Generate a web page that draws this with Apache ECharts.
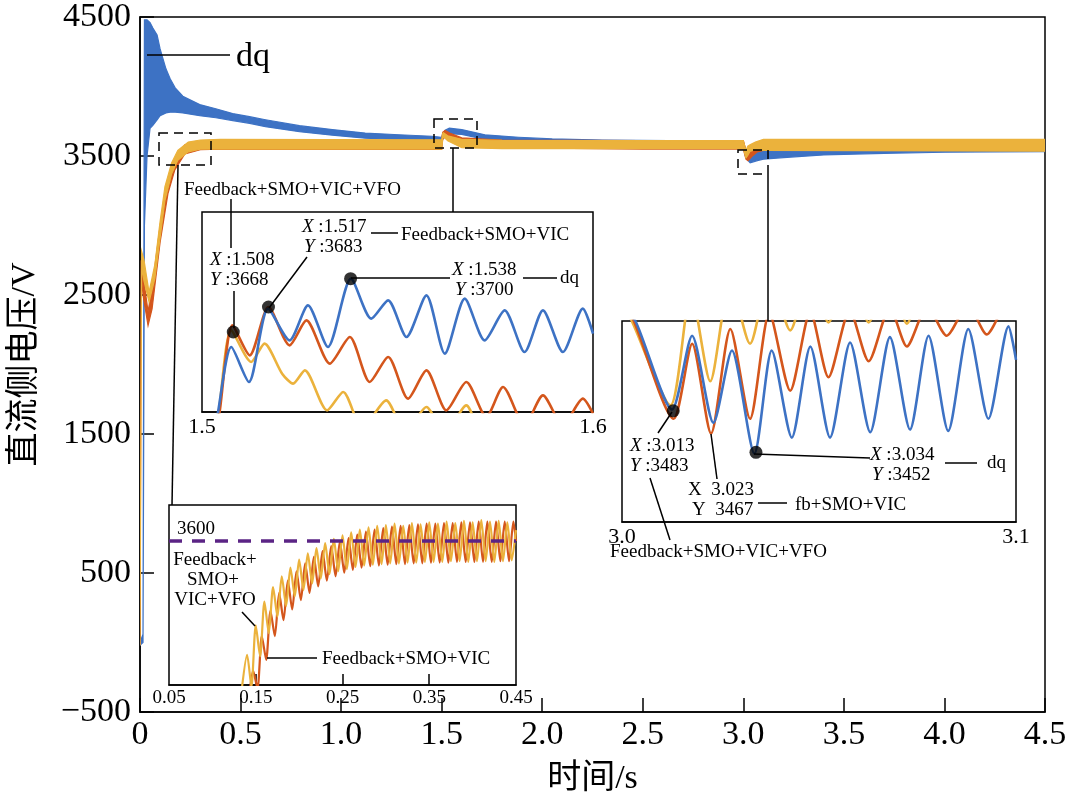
<!DOCTYPE html>
<html><head><meta charset="utf-8">
<script src="https://cdn.jsdelivr.net/npm/echarts@6/dist/echarts.min.js"></script>
<style>html,body{margin:0;padding:0;background:#fff}#c{width:1071px;height:805px}</style>
</head><body><div id="c"></div>
<script>
// ---------------- data ----------------
const mainXTicks = [0, 0.5, 1.0, 1.5, 2.0, 2.5, 3.0, 3.5, 4.0, 4.5];
const mainYTicks = [-500, 500, 1500, 2500, 3500, 4500];
const inset1XTicks = [1.5, 1.6];
const inset2XTicks = [3.0, 3.1];
const inset3XLabels = [0.05, 0.15, 0.25, 0.35, 0.45];
const inset3XTicks = [0.15, 0.25, 0.35];
const refLevel = 3600;

// main chart: oscillation bands (time, lower envelope, upper envelope)
const dqX  = [0, 0.015, 0.022, 0.035, 0.05, 0.064, 0.085, 0.1, 0.129, 0.15, 0.175, 0.213, 0.297, 0.377, 0.461, 0.545, 0.624, 0.793, 0.956, 1.12, 1.288, 1.452, 1.5, 1.505, 1.517, 1.538, 1.6, 1.715, 1.883, 2.05, 2.3, 2.63, 2.99, 3.0, 3.013, 3.034, 3.07, 3.1, 3.2, 3.4, 3.7, 4.0, 4.5];
const dqLo = [-20, 0, 3000, 3500, 3700, 3720, 3760, 3790, 3810, 3815, 3815, 3810, 3790, 3775, 3755, 3735, 3711, 3675, 3650, 3628, 3618, 3612, 3605, 3620, 3640, 3660, 3655, 3620, 3600, 3590, 3580, 3575, 3570, 3565, 3484, 3451, 3467, 3477, 3489, 3508, 3519, 3527, 3532];
const dqHi = [0, 60, 4480, 4480, 4460, 4420, 4370, 4270, 4127, 4055, 3990, 3930, 3870, 3840, 3805, 3783, 3761, 3718, 3690, 3665, 3653, 3642, 3635, 3660, 3685, 3700, 3690, 3652, 3635, 3623, 3615, 3610, 3608, 3600, 3540, 3530, 3540, 3546, 3555, 3565, 3575, 3585, 3590];

const fbX  = [0, 0.006, 0.015, 0.04, 0.06, 0.1, 0.139, 0.173, 0.223, 0.3, 0.4, 1.5, 1.505, 1.517, 1.54, 1.6, 1.8, 2.5, 3.0, 3.013, 3.023, 3.043, 3.07, 3.1, 3.2, 4.5];
const fbLo = [-20, 2650, 2500, 2280, 2400, 2880, 3230, 3400, 3515, 3545, 3550, 3548, 3620, 3640, 3635, 3590, 3560, 3550, 3550, 3477, 3466, 3498, 3530, 3540, 3540, 3540];
const fbHi = [20, 2750, 2650, 2380, 2550, 3000, 3320, 3480, 3580, 3600, 3612, 3610, 3670, 3683, 3665, 3630, 3615, 3610, 3610, 3540, 3544, 3555, 3580, 3590, 3600, 3612];

const vfoX  = [0, 0.008, 0.02, 0.045, 0.074, 0.099, 0.124, 0.157, 0.188, 0.24, 0.3, 0.4, 1.5, 1.505, 1.508, 1.53, 1.6, 1.8, 3.0, 3.013, 3.022, 3.033, 3.06, 3.1, 4.5];
const vfoLo = [-20, 2700, 2600, 2450, 2620, 2900, 3180, 3370, 3470, 3530, 3550, 3550, 3550, 3620, 3640, 3610, 3560, 3553, 3553, 3487, 3505, 3533, 3545, 3540, 3535];
const vfoHi = [20, 2814, 2750, 2520, 2720, 3020, 3280, 3450, 3540, 3600, 3615, 3620, 3617, 3660, 3668, 3645, 3620, 3612, 3610, 3540, 3570, 3580, 3600, 3620, 3620];

// inset 1 (1.5 - 1.6 s)
const dqInset1 = [[1.503,3600],[1.5041,3620],[1.5075,3659],[1.512,3638],[1.5169,3682],[1.5224,3663],[1.5271,3684],[1.5322,3659],[1.5381,3700],[1.5433,3676],[1.5476,3687],[1.5523,3665],[1.5574,3690],[1.5621,3655],[1.5672,3688],[1.5723,3663],[1.5774,3681],[1.5825,3656],[1.5872,3681],[1.5923,3656],[1.5974,3682],[1.6,3667]];
const fbInset1 = [[1.503,3600],[1.5045,3620],[1.5078,3672],[1.5122,3654],[1.517,3683],[1.5224,3660],[1.5267,3675],[1.5327,3649],[1.5378,3665],[1.5429,3638],[1.5476,3653],[1.5527,3628],[1.5574,3645],[1.5625,3621],[1.5676,3638],[1.5727,3617],[1.577,3635],[1.5825,3612],[1.5872,3630],[1.5923,3612],[1.5974,3628],[1.6,3619]];
const vfoInset1 = [[1.503,3600],[1.5043,3620],[1.5075,3669],[1.5126,3650],[1.516,3661],[1.5205,3643],[1.5233,3637],[1.5263,3645],[1.532,3621],[1.5361,3632],[1.541,3610],[1.5471,3627],[1.552,3608],[1.5574,3623],[1.562,3606],[1.5676,3624],[1.572,3605],[1.578,3615],[1.583,3603],[1.6,3605]];
const inset1Markers = [[1.508,3668],[1.517,3683],[1.538,3700]];

// inset 2 (3.0 - 3.1 s)
const dqInset2 = [[3.0,3560],[3.0034,3550],[3.0127,3484],[3.0178,3539],[3.0232,3474],[3.0279,3528],[3.0336,3451],[3.038,3528],[3.0431,3463],[3.0478,3531],[3.0528,3463],[3.0579,3534],[3.063,3467],[3.068,3538],[3.0731,3469],[3.0778,3539],[3.0828,3468],[3.0879,3544],[3.093,3477],[3.0981,3546],[3.1,3521]];
const fbInset2 = [[3.0,3565],[3.003,3550],[3.0131,3477],[3.0178,3533],[3.0226,3466],[3.0275,3544],[3.0325,3477],[3.0374,3556],[3.0427,3498],[3.0478,3557],[3.0524,3508],[3.0578,3558],[3.0626,3520],[3.068,3560],[3.0723,3531],[3.0775,3561],[3.0824,3539],[3.0878,3562],[3.0926,3540],[3.098,3564],[3.1,3556]];
const vfoInset2 = [[3.0,3565],[3.0025,3550],[3.0123,3487],[3.0175,3572],[3.0224,3505],[3.0275,3580],[3.0325,3533],[3.0375,3585],[3.0427,3543],[3.0478,3588],[3.0524,3549],[3.0578,3590],[3.0626,3549],[3.068,3590],[3.0723,3548],[3.0778,3592],[3.0828,3553],[3.088,3592],[3.093,3553],[3.1,3590]];
const inset2Markers = [[3.013,3483],[3.034,3452]];

// inset 3 (0.05 - 0.45 s)
const fbInset3 = [[0.142,3380],[0.147,3420],[0.152,3395],[0.157,3468],[0.162,3435],[0.167,3503],[0.172,3468],[0.177,3528],[0.182,3490],[0.187,3545],[0.192,3505],[0.197,3558],[0.202,3518],[0.207,3569],[0.212,3528],[0.217,3578],[0.222,3537],[0.227,3586],[0.232,3545],[0.237,3593],[0.242,3551],[0.247,3599],[0.252,3556],[0.257,3604],[0.262,3560],[0.267,3609],[0.272,3563],[0.277,3613],[0.282,3565],[0.287,3616],[0.292,3566],[0.297,3618],[0.302,3567],[0.307,3620],[0.312,3568],[0.317,3621],[0.322,3568],[0.327,3622],[0.332,3569],[0.337,3623],[0.342,3569],[0.347,3624],[0.352,3570],[0.357,3624],[0.362,3570],[0.367,3625],[0.372,3570],[0.377,3625],[0.382,3571],[0.387,3626],[0.392,3571],[0.397,3626],[0.402,3571],[0.407,3627],[0.412,3571],[0.417,3627],[0.422,3571],[0.427,3627],[0.432,3572],[0.437,3627],[0.442,3572],[0.447,3627],[0.45,3600]];
const vfoInset3 = [[0.134,3395],[0.14,3442],[0.145,3398],[0.15,3483],[0.155,3440],[0.16,3516],[0.165,3472],[0.17,3536],[0.175,3495],[0.18,3551],[0.185,3510],[0.19,3563],[0.195,3523],[0.2,3574],[0.205,3532],[0.21,3583],[0.215,3541],[0.22,3590],[0.225,3548],[0.23,3597],[0.235,3554],[0.24,3603],[0.245,3558],[0.25,3608],[0.255,3561],[0.26,3612],[0.265,3564],[0.27,3616],[0.275,3566],[0.28,3619],[0.285,3567],[0.29,3621],[0.295,3568],[0.3,3622],[0.305,3569],[0.31,3624],[0.315,3569],[0.32,3621],[0.325,3570],[0.33,3625],[0.335,3570],[0.34,3623],[0.345,3571],[0.35,3626],[0.355,3571],[0.36,3624],[0.365,3571],[0.37,3627],[0.375,3572],[0.38,3625],[0.385,3572],[0.39,3628],[0.395,3571],[0.4,3626],[0.405,3572],[0.41,3629],[0.415,3572],[0.42,3627],[0.425,3571],[0.43,3628],[0.435,3572],[0.44,3626],[0.445,3573],[0.45,3615]];

// ---------------- style ----------------
const SERIF = '"Liberation Serif","Times New Roman",serif';
const CJK = '"Liberation Serif","Noto Sans CJK SC",serif';
const BLUE = '#3d72c4', ORANGE = '#d4561c', YELLOW = '#ebb23c', PURPLE = '#5b2485';

// oscillation band drawn as a filled polygon between the lower and upper envelopes (via axis scales)
function band(X, LO, HI, color) {
  return {
    type: 'custom', xAxisIndex: 0, yAxisIndex: 0, silent: true,
    data: [[X[0], LO[0]]],
    renderItem: function (params, api) {
      const top = X.map((x, i) => api.coord([x, HI[i]]));
      const bot = X.map((x, i) => api.coord([x, LO[i]])).reverse();
      const cs = params.coordSys;
      return {
        type: 'polygon',
        shape: { points: top.concat(bot) },
        style: { fill: color, stroke: color, lineWidth: 1.2 },
        clipPath: { type: 'rect', shape: { x: cs.x, y: cs.y, width: cs.width, height: cs.height } }
      };
    }
  };
}
function ln(idx, data, color, w) {
  return { type: 'line', xAxisIndex: idx, yAxisIndex: idx, data: data, symbol: 'none', clip: true, smooth: 0.25,
    lineStyle: { color: color, width: w || 2.6 }, silent: true };
}
function T(x, y, text, size, align) {
  const s = size || 19;
  return { type: 'text', x: x, y: y, z: 100, silent: true,
    style: { text: text, fontSize: s, fontFamily: SERIF, fill: '#000', align: align || 'left', verticalAlign: 'middle',
      rich: { i: { fontStyle: 'italic', fontSize: s, fontFamily: SERIF, fill: '#000' } } } };
}
function L(x1, y1, x2, y2, w) {
  return { type: 'line', z: 100, silent: true, shape: { x1: x1, y1: y1, x2: x2, y2: y2 }, style: { stroke: '#000', lineWidth: w || 1.5 } };
}
function R(x, y, w, h) {
  return { type: 'rect', z: 100, silent: true, shape: { x: x, y: y, width: w, height: h },
    style: { fill: 'rgba(0,0,0,0)', stroke: '#000', lineWidth: 1.5, lineDash: [9, 6] } };
}

const insetX = (idx, min, max, labels, fmt, fs, ticks) => ({
  type: 'value', gridIndex: idx, min: min, max: max,
  axisLine: { show: true, onZero: false, lineStyle: { color: '#000', width: 1.5 } },
  axisTick: ticks ? { show: true, inside: true, length: 11, customValues: ticks, lineStyle: { color: '#000', width: 1.5 } } : { show: false },
  axisLabel: { customValues: labels, formatter: v => v.toFixed(fmt), fontSize: fs, fontFamily: SERIF, color: '#000', margin: 4 },
  splitLine: { show: false }
});
const insetY = (idx, min, max) => ({ type: 'value', gridIndex: idx, min: min, max: max, show: false, splitLine: { show: false } });

const chart = echarts.init(document.getElementById('c'), null, { renderer: 'canvas' });
chart.setOption({
  animation: false,
  backgroundColor: '#fff',
  grid: [
    { left: 137, top: 15, width: 908, height: 697, show: true, borderColor: '#000', borderWidth: 1.5, backgroundColor: 'rgba(0,0,0,0)', containLabel: false },
    { left: 202, top: 212, width: 391, height: 200, show: true, borderColor: '#000', borderWidth: 1.5, backgroundColor: '#fff', containLabel: false },
    { left: 622, top: 321, width: 394, height: 201, show: true, borderColor: '#000', borderWidth: 1.5, backgroundColor: '#fff', containLabel: false },
    { left: 169, top: 505, width: 347, height: 180, show: true, borderColor: '#000', borderWidth: 1.5, backgroundColor: '#fff', containLabel: false }
  ],
  xAxis: [
    { type: 'value', gridIndex: 0, min: 0, max: 4.5, interval: 0.5,
      axisLine: { onZero: false, lineStyle: { color: '#000', width: 1.5 } },
      axisTick: { inside: true, length: 14, customValues: mainXTicks, lineStyle: { color: '#000', width: 1.5 } },
      axisLabel: { customValues: mainXTicks, formatter: v => v === 0 ? '0' : v.toFixed(1), fontSize: 34, fontFamily: SERIF, color: '#000', margin: 6 },
      splitLine: { show: false },
      name: '时间/s', nameLocation: 'middle', nameGap: 50,
      nameTextStyle: { fontSize: 34, fontFamily: CJK, color: '#000' } },
    insetX(1, 1.5, 1.6, inset1XTicks, 1, 22, null),
    insetX(2, 3.0, 3.1, inset2XTicks, 1, 22, null),
    insetX(3, 0.05, 0.45, inset3XLabels, 2, 19, inset3XTicks)
  ],
  yAxis: [
    { type: 'value', gridIndex: 0, min: -500, max: 4500,
      axisLine: { onZero: false, lineStyle: { color: '#000', width: 1.5 } },
      axisTick: { inside: true, length: 14, customValues: mainYTicks, lineStyle: { color: '#000', width: 1.5 } },
      axisLabel: { customValues: mainYTicks, formatter: v => v < 0 ? '\u2212' + Math.abs(v) : String(v), fontSize: 34, fontFamily: SERIF, color: '#000', margin: 9 },
      splitLine: { show: false },
      name: '直流侧电压/V', nameLocation: 'middle', nameGap: 98, nameRotate: 90,
      nameTextStyle: { fontSize: 34, fontFamily: CJK, color: '#000' } },
    insetY(1, 3620, 3740),
    insetY(2, 3400, 3550),
    insetY(3, 3400, 3650)
  ],
  series: [
    band(dqX, dqLo, dqHi, BLUE),
    band(fbX, fbLo, fbHi, ORANGE),
    band(vfoX, vfoLo, vfoHi, YELLOW),
    ln(1, vfoInset1, YELLOW), ln(1, fbInset1, ORANGE), ln(1, dqInset1, BLUE),
    { type: 'scatter', xAxisIndex: 1, yAxisIndex: 1, data: inset1Markers, symbolSize: 13, itemStyle: { color: '#000' }, z: 5, silent: true },
    ln(2, vfoInset2, YELLOW), ln(2, fbInset2, ORANGE), ln(2, dqInset2, BLUE),
    { type: 'scatter', xAxisIndex: 2, yAxisIndex: 2, data: inset2Markers, symbolSize: 13, itemStyle: { color: '#000' }, z: 5, silent: true },
    Object.assign(ln(3, fbInset3, ORANGE, 2.2), {
      markLine: { silent: true, symbol: 'none', label: { show: false },
        lineStyle: { color: PURPLE, width: 3.5, type: [13, 10] }, data: [{ yAxis: refLevel }] } }),
    ln(3, vfoInset3, YELLOW, 2.2)
  ],
  graphic: [
    // main: dq label, zoom boxes, connectors
    L(147, 55, 230, 55), T(236, 57, 'dq', 34),
    R(159, 133, 52, 32), R(434, 119, 43, 29), R(738, 150, 30, 24),
    L(178, 165, 172, 505), L(453, 148, 453, 212), L(768, 174, 768, 321),
    // inset 1
    T(184, 190, 'Feedback+SMO+VIC+VFO'), L(231, 199, 231, 248),
    T(210, 260, '{i|X} :1.508'), T(210, 280, '{i|Y} :3668'), L(234, 291, 234, 328),
    T(302, 227, '{i|X} :1.517'), T(304, 247, '{i|Y} :3683'), L(269, 308, 307, 257),
    L(371, 233, 398, 233), T(401, 235, 'Feedback+SMO+VIC'),
    L(351, 278, 450, 278), T(452, 270, '{i|X} :1.538'), T(455, 290, '{i|Y} :3700'),
    L(523, 278, 557, 278), T(560, 278, 'dq'),
    // inset 2
    L(672, 412, 658, 433),
    T(630, 446, '{i|X} :3.013'), T(630, 466, '{i|Y} :3483'),
    L(650, 478, 670, 540), T(610, 552, 'Feedback+SMO+VIC+VFO'),
    L(711, 434, 717, 479),
    T(688, 490, 'X  3.023'), T(692, 510, 'Y  3467'),
    L(758, 503, 787, 503), T(795, 505, 'fb+SMO+VIC'),
    L(754, 454, 870, 458),
    T(870, 455, '{i|X} :3.034'), T(872, 475, '{i|Y} :3452'),
    L(945, 463, 977, 463), T(987, 463, 'dq'),
    // inset 3
    T(177, 529, '3600'),
    T(215, 560, 'Feedback+', 19, 'center'), T(213, 580, 'SMO+', 19, 'center'), T(215, 600, 'VIC+VFO', 19, 'center'),
    L(242, 612, 255, 626),
    L(267, 658, 317, 658), T(322, 659, 'Feedback+SMO+VIC')
  ]
});
</script>
</body></html>
